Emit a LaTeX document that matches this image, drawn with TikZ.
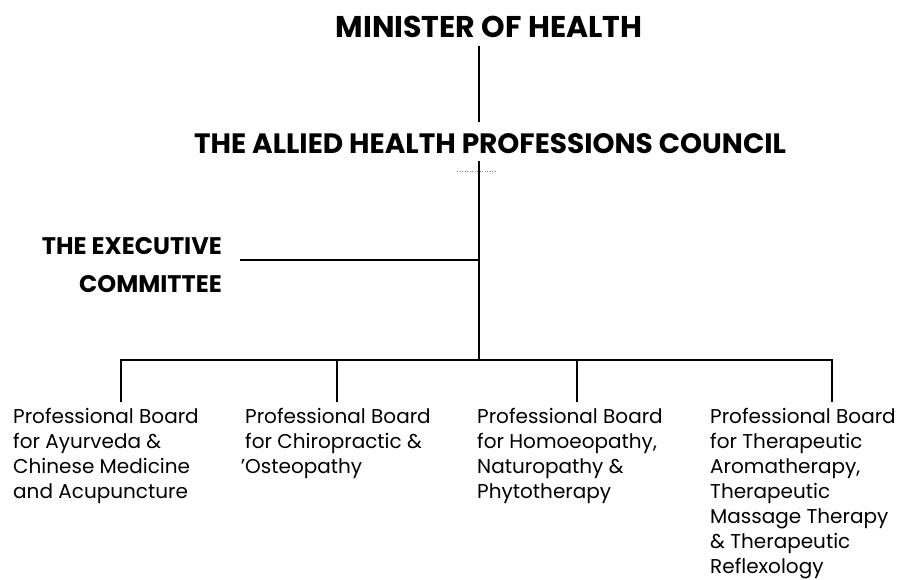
\documentclass[tikz,border=0pt]{standalone}
\usepackage{fontspec}
\setmainfont{Poppins}
\begin{document}
\begin{tikzpicture}[x=1pt,y=-1pt,
  wire/.style={line width=1.5pt, black},
  title/.style={font=\bfseries\fontsize{30}{34}\selectfont, inner sep=0pt, text depth=0pt},
  board/.style={font=\fontsize{20}{25}\selectfont, align=left, anchor=north west,
    inner xsep=0pt, inner ysep=6pt}]
  \useasboundingbox (0,0) rectangle (897,579);

  % heads
  \node[title] (minister) at (489,27) {MINISTER OF HEALTH};
  \node[title, font=\bfseries\fontsize{28}{32}\selectfont] (council) at (490,144) {THE ALLIED HEALTH PROFESSIONS COUNCIL};
  \node[title, font=\bfseries\fontsize{24}{38}\selectfont, align=right, anchor=east] (exec) at (222,265)
    {THE EXECUTIVE\\COMMITTEE};

  % professional boards
  \node[board] (b1) at (13,402) {Professional Board\\for Ayurveda \&\\Chinese Medicine\\and Acupuncture};
  \node[board] (b2) at (245,402) {Professional Board\\for Chiropractic \&\\\llap{'}Osteopathy};
  \node[board] (b3) at (477,402) {Professional Board\\for Homoeopathy,\\Naturopathy \&\\Phytotherapy};
  \node[board] (b4) at (710,402) {Professional Board\\for Therapeutic\\Aromatherapy,\\Therapeutic\\Massage Therapy\\\& Therapeutic\\Reflexology};

  % junction points
  \coordinate (trunk) at (479,360);
  \coordinate (d1) at (121,360);
  \coordinate (d2) at (337,360);
  \coordinate (d3) at (577,360);
  \coordinate (d4) at (832,360);
  \coordinate (ex) at (479,260);
  \coordinate (dotL) at (457,171);
  \coordinate (dotR) at (496,171);

  % connectors
  \draw[wire] ([yshift=-8pt]minister.south -| trunk) -- ([yshift=12pt]council.north -| trunk);
  \draw[wire] ([yshift=-7pt]council.south -| trunk) -- (trunk);
  \draw[wire] ([xshift=18pt]exec.east |- ex) -- (ex);
  \draw[wire] (b1.north -| d1) -- (d1) -- (d4) -- (b4.north -| d4);
  \draw[wire] (d2) -- (b2.north -| d2);
  \draw[wire] (d3) -- (b3.north -| d3);
  \draw[gray, line width=0.5pt, dotted] (dotL) -- (dotR);
\end{tikzpicture}
\end{document}
